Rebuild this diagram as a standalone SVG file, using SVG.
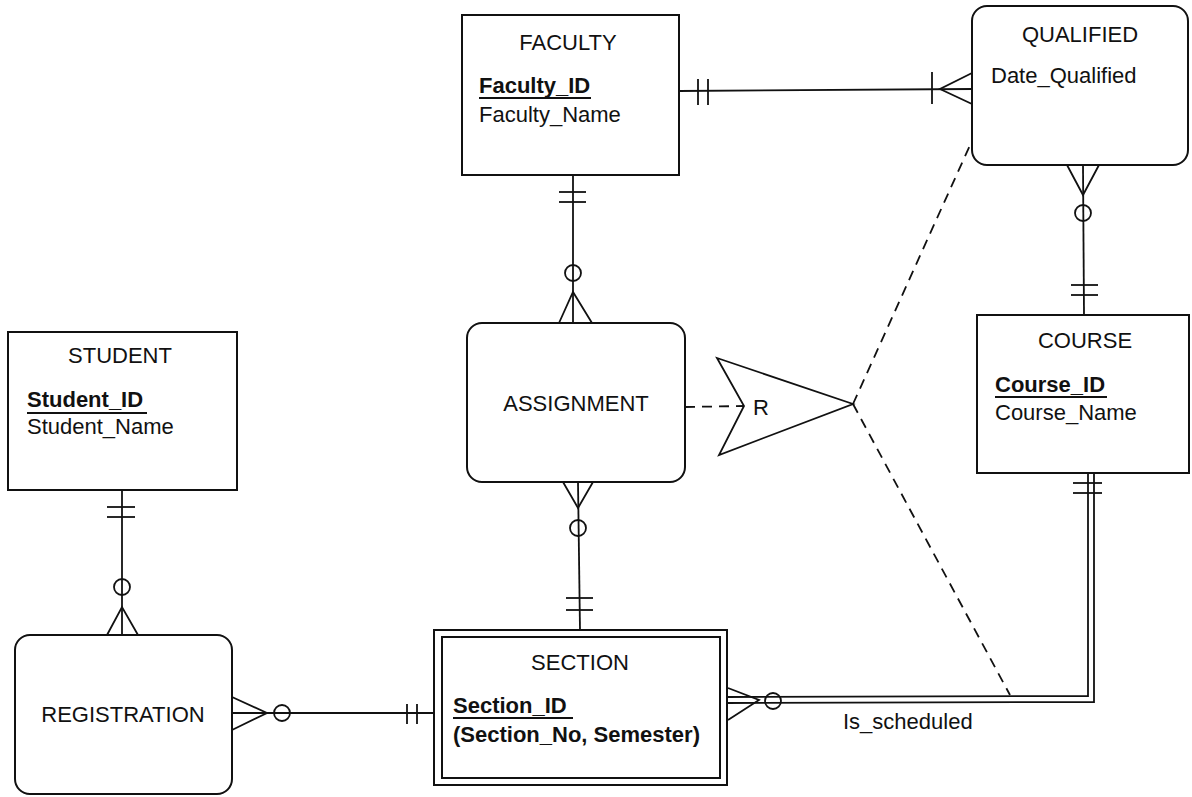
<svg xmlns="http://www.w3.org/2000/svg" width="1192" height="797" viewBox="0 0 1192 797">
<style>
text{font-family:"Liberation Sans",Arial,sans-serif;font-size:22px;fill:#111}
.t{text-anchor:middle}
.b{font-weight:bold}
.box{fill:#fff;stroke:#111;stroke-width:2}
.ln{fill:none;stroke:#111;stroke-width:1.8}
.ds{fill:none;stroke:#111;stroke-width:1.8;stroke-dasharray:10 7}
</style>
<rect width="1192" height="797" fill="#fff"/>
<g id="connectors">
<!-- FACULTY - QUALIFIED -->
<line class="ln" x1="679" y1="91" x2="972" y2="89"/>
<line class="ln" x1="698" y1="79" x2="698" y2="105"/>
<line class="ln" x1="708" y1="79" x2="708" y2="105"/>
<line class="ln" x1="932" y1="72" x2="932" y2="104"/>
<polyline class="ln" points="972,73 940,89 972,104"/>
<!-- FACULTY - ASSIGNMENT -->
<line class="ln" x1="573" y1="175" x2="573" y2="323"/>
<line class="ln" x1="559" y1="192" x2="586" y2="192"/>
<line class="ln" x1="559" y1="202" x2="586" y2="202"/>
<circle class="ln" cx="573" cy="273" r="8"/>
<polyline class="ln" points="559,323 573,292 592,323"/>
<!-- ASSIGNMENT - SECTION -->
<line class="ln" x1="578" y1="482" x2="580" y2="630"/>
<polyline class="ln" points="563,482 578,508 593,482"/>
<circle class="ln" cx="578" cy="528" r="8"/>
<line class="ln" x1="566" y1="598" x2="593" y2="598"/>
<line class="ln" x1="566" y1="610" x2="593" y2="610"/>
<!-- QUALIFIED - COURSE -->
<line class="ln" x1="1083" y1="165" x2="1084" y2="315"/>
<polyline class="ln" points="1067,165 1083,195 1099,165"/>
<circle class="ln" cx="1083" cy="213" r="8"/>
<line class="ln" x1="1071" y1="285" x2="1098" y2="285"/>
<line class="ln" x1="1071" y1="295" x2="1098" y2="295"/>
<!-- STUDENT - REGISTRATION -->
<line class="ln" x1="122" y1="490" x2="122" y2="635"/>
<line class="ln" x1="107" y1="507" x2="135" y2="507"/>
<line class="ln" x1="107" y1="517" x2="135" y2="517"/>
<circle class="ln" cx="122" cy="587" r="8"/>
<polyline class="ln" points="107,635 122,607 138,635"/>
<!-- REGISTRATION - SECTION -->
<line class="ln" x1="232" y1="713" x2="434" y2="713"/>
<polyline class="ln" points="232,697 267,713 232,730"/>
<circle class="ln" cx="282" cy="713" r="8"/>
<line class="ln" x1="407" y1="704" x2="407" y2="724"/>
<line class="ln" x1="417" y1="704" x2="417" y2="724"/>
<!-- SECTION - COURSE (Is_scheduled, identifying) -->
<polyline class="ln" points="728,697 1088,696 1088,473"/>
<polyline class="ln" points="728,703 1094,702 1094,473"/>
<polyline class="ln" points="728,688 759,700 728,720"/>
<circle class="ln" cx="773" cy="701" r="8" fill="#fff"/>
<line class="ln" x1="1073" y1="483" x2="1102" y2="483"/>
<line class="ln" x1="1073" y1="493" x2="1102" y2="493"/>
<text x="843" y="729">Is_scheduled</text>
<!-- R constraint -->
<line class="ds" x1="685" y1="407" x2="744" y2="406"/>
<line class="ds" x1="853" y1="404" x2="971" y2="143"/>
<line class="ds" x1="853" y1="404" x2="1010" y2="695"/>
</g>
<g id="r-constraint">
<polygon class="ln" points="717,358 744,406 719,455 853,404" stroke-linejoin="miter"/>
<text x="753" y="415">R</text>
</g>
<g id="faculty">
<rect class="box" x="462" y="15" width="217" height="160"/>
<text class="t" x="568" y="50">FACULTY</text>
<text class="b" x="479" y="93">Faculty_ID</text>
<line class="ln" x1="479" y1="98" x2="591" y2="98"/>
<text x="479" y="122">Faculty_Name</text>
</g>
<g id="qualified">
<rect class="box" x="972" y="6" width="216" height="159" rx="15"/>
<text class="t" x="1080" y="42">QUALIFIED</text>
<text x="991" y="83">Date_Qualified</text>
</g>
<g id="assignment">
<rect class="box" x="467" y="323" width="218" height="159" rx="15"/>
<text class="t" x="576" y="411">ASSIGNMENT</text>
</g>
<g id="course">
<rect class="box" x="977" y="315" width="212" height="158"/>
<text class="t" x="1085" y="348">COURSE</text>
<text class="b" x="995" y="392">Course_ID</text>
<line class="ln" x1="995" y1="397" x2="1107" y2="397"/>
<text x="995" y="420">Course_Name</text>
</g>
<g id="student">
<rect class="box" x="8" y="332" width="229" height="158"/>
<text class="t" x="120" y="363">STUDENT</text>
<text class="b" x="27" y="407">Student_ID</text>
<line class="ln" x1="27" y1="413" x2="147" y2="413"/>
<text x="27" y="434">Student_Name</text>
</g>
<g id="registration">
<rect class="box" x="15" y="635" width="217" height="159" rx="15"/>
<text class="t" x="123" y="722">REGISTRATION</text>
</g>
<g id="section">
<rect class="box" x="434" y="630" width="293" height="155"/>
<rect class="box" x="442" y="637" width="278" height="141"/>
<text class="t" x="580" y="670">SECTION</text>
<text class="b" x="453" y="713">Section_ID</text>
<line class="ln" x1="453" y1="718" x2="573" y2="718"/>
<text class="b" x="453" y="742">(Section_No, Semester)</text>
</g>
</svg>
